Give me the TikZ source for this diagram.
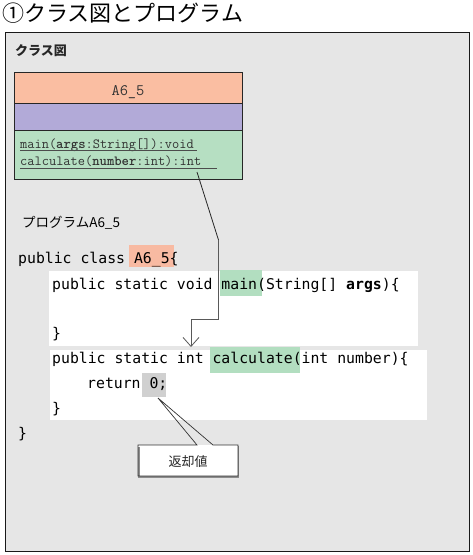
\documentclass[tikz,border=0pt]{standalone}
\usepackage{fontspec}
\newfontfamily\codefont{DejaVu Sans Mono}
\newfontfamily\jp{Noto Sans CJK JP}
\usetikzlibrary{arrows.meta, positioning}

\definecolor{panelgray}{RGB}{230,230,230}
\definecolor{clsname}{RGB}{250,190,162}
\definecolor{clsattr}{RGB}{178,170,216}
\definecolor{clsop}{RGB}{182,223,194}
\definecolor{hlred}{RGB}{248,186,162}
\definecolor{hlgreen}{RGB}{178,222,192}
\definecolor{hlgray}{RGB}{208,208,208}

\begin{document}
\begin{tikzpicture}[
  x=1pt, y=-1pt,
  code/.style={anchor=base west, inner sep=0pt, font=\codefont\fontsize{14.8}{16}\selectfont},
  uml/.style={anchor=base west, inner sep=0pt, font=\ttfamily\fontsize{14}{16}\selectfont, text=black!80},
  jlabel/.style={anchor=base west, inner sep=0pt, font=\jp\fontsize{13.5}{15}\selectfont},
  clsbox/.style={draw=black!85, line width=0.8pt, minimum width=228pt, inner sep=0pt, anchor=north west},
  link/.style={draw=black!65, line width=0.8pt},
  >={Straight Barb[length=9pt,width=16pt]}
]
\useasboundingbox (0,0) rectangle (473,555);

% title and panel
\node[anchor=base west, inner sep=0pt, font=\jp\fontsize{22}{24}\selectfont] (title) at (2,21) {①クラス図とプログラム};
\draw[fill=panelgray, draw=black!90, line width=1pt] (5,32) rectangle (469,551);
\node[jlabel, font=\jp\bfseries\fontsize{13}{15}\selectfont, text=black!85] (cdlabel) at (15,55) {クラス図};

% class diagram
\node[clsbox, fill=clsname, minimum height=31pt] (cname) at (14,72) {};
\node[clsbox, fill=clsattr, minimum height=27pt] (cattr) at (14,103) {};
\node[clsbox, fill=clsop, minimum height=49pt] (cops) at (14,130) {};
\node[anchor=base, inner sep=0pt, font=\ttfamily\fontsize{16}{18}\selectfont, text=black!80] (cnametext) at (128,95) {A6\_5};
\node[uml] (op1) at (20,148) {main(\textbf{args}:String[]):void};
\node[uml] (op2) at (20,165) {calculate(\textbf{number}:int):int};
\draw[black!70, line width=0.6pt] (20,150.5) -- (197,150.5);
\draw[black!70, line width=0.6pt] (20,168) -- (217,168);

% program
\node[jlabel] (plabel) at (22,227) {プログラムA6\_5};
\fill[white] (49,271) rectangle (418,346);
\fill[white] (50,350) rectangle (427,420);
\fill[hlred] (129,245) rectangle (174,267);
\fill[hlgreen] (220,270) rectangle (262,296);
\fill[hlgreen] (210,347) rectangle (300,373);
\fill[hlgray] (142,373) rectangle (166,397);

\node[code] (l1) at (18,263) {public class A6\_5\{};
\node[code] (l2) at (52,289) {public static void main(String[] \textbf{args})\{};
\node[code] (l3) at (52,338) {\}};
\node[code] (l4) at (52,363) {public static int calculate(int number)\{};
\node[code] (l5) at (87,388) {return 0;};
\node[code] (l6) at (52,413) {\}};
\node[code] (l7) at (18,438) {\}};

% connector from the operation to the method
\coordinate (opend) at (197,172);
\coordinate (bend1) at (218.5,240);
\coordinate (bend2) at (218.5,319);
\coordinate (bend3) at (191,319);
\coordinate (calltip) at (191,347);
\draw[line width=0.8pt, black!85] (opend) -- (bend1);
\draw[link, ->] (bend1) -- (bend2) -- (bend3) -- (calltip);

% callout
\coordinate (zerotip) at (158,398);
\fill[white] (138,445) rectangle (238,476);
\draw[black!45, line width=1.2pt] (139,446.5) -- (139,477) -- (238.5,477) -- (238.5,446);
\draw[black!80, line width=0.7pt] (197,445) -- (138,445) -- (138,476) -- (238,476) -- (238,445) -- (213,445) -- (zerotip) -- cycle;
\node[inner sep=0pt, font=\jp\fontsize{13}{14}\selectfont, text=black!85] (retval) at (188,462) {返却値};
\end{tikzpicture}
\end{document}
